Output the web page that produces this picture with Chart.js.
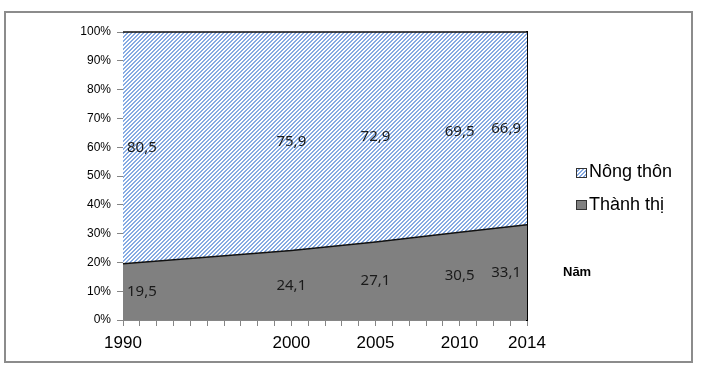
<!DOCTYPE html>
<html>
<head>
<meta charset="utf-8">
<script src="https://cdn.jsdelivr.net/npm/chart.js@4/dist/chart.umd.min.js"></script>
<style>
  html, body { margin: 0; padding: 0; background: #fff; }
  #wrap { position: relative; width: 702px; height: 368px; }
</style>
</head>
<body>
<div id="wrap"><canvas id="chart" width="702" height="368"></canvas></div>
<script>
// ─── DỮ LIỆU ─────────────────────────────────────────────────────────────
const years       = [1990, 2000, 2005, 2010, 2014];
const thanhThi    = [19.5, 24.1, 27.1, 30.5, 33.1];
const nongThon    = [80.5, 75.9, 72.9, 69.5, 66.9];
const xTickLabels = [1990, 2000, 2005, 2010, 2014];
const seriesNames = ['Thành thị', 'Nông thôn'];

const fmtVi = v => v.toFixed(1).replace('.', ',');

// Họa tiết sọc chéo cho vùng nông thôn
function hatchPattern() {
  const tile = document.createElement('canvas');
  tile.width = 4; tile.height = 4;
  const t = tile.getContext('2d');
  t.fillStyle = '#fff';
  t.fillRect(0, 0, 4, 4);
  t.fillStyle = '#86aae2';
  for (let r = 0; r < 4; r++) {
    for (let k = 0; k < 2; k++) t.fillRect((3 - r + k) % 4, r, 1, 1);
  }
  return document.getElementById('chart').getContext('2d').createPattern(tile, 'repeat');
}
const hatch = hatchPattern();

// Khung ngoài
const framePlugin = {
  id: 'frame',
  beforeDraw(chart) {
    const ctx = chart.ctx;
    ctx.save();
    ctx.fillStyle = '#fff';
    ctx.fillRect(0, 0, chart.width, chart.height);
    ctx.strokeStyle = '#8c8c8c';
    ctx.lineWidth = 2;
    ctx.strokeRect(5, 12, 687, 350);
    ctx.restore();
  },
};

// Nhãn số liệu ở giữa mỗi dải
const labelPlugin = {
  id: 'bandLabels',
  afterDatasetsDraw(chart) {
    const ctx = chart.ctx;
    const bottom = chart.scales.y.getPixelForValue(0);
    const m0 = chart.getDatasetMeta(0).data;
    const m1 = chart.getDatasetMeta(1).data;
    const last = years.length - 1;
    ctx.save();
    ctx.font = '15px "Noto Sans"';
    ctx.fillStyle = '#1a1a1a';
    ctx.textBaseline = 'middle';
    const put = (txt, i, y) => {
      let x = m0[i].x;
      if (i === 0) { ctx.textAlign = 'left'; x += 4; }
      else if (i === last) { ctx.textAlign = 'right'; x -= 6; }
      else ctx.textAlign = 'center';
      ctx.fillText(txt, x, y);
    };
    years.forEach((yr, i) => {
      put(fmtVi(thanhThi[i]), i, (bottom + m0[i].y) / 2);
      put(fmtVi(nongThon[i]), i, (m0[i].y + m1[i].y) / 2);
    });
    ctx.restore();
  },
};

// Chú giải + chữ "Năm"
const legendPlugin = {
  id: 'customLegend',
  afterDraw(chart) {
    const ctx = chart.ctx;
    ctx.save();
    ctx.lineWidth = 1;
    ctx.strokeStyle = '#333';
    ctx.fillStyle = hatch;
    ctx.fillRect(576, 168, 11, 10);
    ctx.strokeRect(576.5, 168.5, 10, 9);
    ctx.fillStyle = '#808080';
    ctx.fillRect(576, 200, 11, 10);
    ctx.strokeRect(576.5, 200.5, 10, 9);

    ctx.fillStyle = '#000';
    ctx.textAlign = 'left';
    ctx.textBaseline = 'alphabetic';
    ctx.font = '18px "Liberation Sans", Arial';
    ctx.fillText(seriesNames[1], 589, 177);
    ctx.fillText(seriesNames[0], 589, 210);
    ctx.font = 'bold 13px "Liberation Sans", Arial';
    ctx.fillText('Năm', 563, 276);
    ctx.restore();
  },
};

const axisGray = '#868686';

new Chart(document.getElementById('chart'), {
  type: 'line',
  data: {
    datasets: [
      {
        label: seriesNames[0],
        data: years.map((x, i) => ({ x, y: thanhThi[i] })),
        backgroundColor: '#808080',
        borderColor: '#111',
        borderWidth: 1.5,
        fill: 'origin',
        pointRadius: 0,
        tension: 0,
        clip: false,
      },
      {
        label: seriesNames[1],
        data: years.map((x, i) => ({ x, y: nongThon[i] })),
        backgroundColor: hatch,
        borderColor: '#111',
        borderWidth: 1.5,
        fill: '-1',
        pointRadius: 0,
        tension: 0,
        clip: false,
      },
    ],
  },
  options: {
    responsive: false,
    animation: false,
    events: [],
    layout: { padding: { left: 0, top: 32, right: 175, bottom: 0 } },
    plugins: {
      legend: { display: false },
      tooltip: { enabled: false },
    },
    scales: {
      x: {
        type: 'linear',
        min: 1990,
        max: 2014,
        afterFit: s => { s.height = 48; },
        afterBuildTicks: s => {
          s.ticks = [];
          for (let v = 1990; v <= 2014; v++) s.ticks.push({ value: v });
        },
        ticks: {
          autoSkip: false,
          maxRotation: 0,
          padding: 7,
          color: '#000',
          font: { family: '"Liberation Sans", Arial', size: 17 },
          callback: v => (xTickLabels.includes(v) ? String(v) : ''),
        },
        grid: { drawOnChartArea: false, drawTicks: true, tickLength: 6, color: axisGray },
        border: { display: true, color: axisGray, width: 1 },
      },
      y: {
        stacked: true,
        min: 0,
        max: 100,
        afterFit: s => { s.width = 123; },
        ticks: {
          stepSize: 10,
          padding: 6,
          color: '#000',
          font: { family: '"Liberation Sans", Arial', size: 12 },
          callback: v => v + '%',
        },
        grid: { drawOnChartArea: false, drawTicks: true, tickLength: 6, color: axisGray },
        border: { display: true, color: axisGray, width: 1 },
      },
      y2: {
        position: 'right',
        min: 0,
        max: 100,
        afterFit: s => { s.width = 0; },
        ticks: { display: false },
        grid: { display: false },
        border: { display: true, color: '#000', width: 2 },
      },
    },
  },
  plugins: [framePlugin, labelPlugin, legendPlugin],
});
</script>
</body>
</html>
